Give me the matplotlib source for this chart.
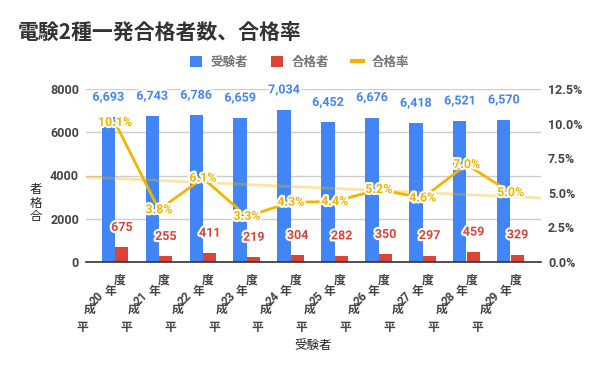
import matplotlib
matplotlib.use("Agg")
import matplotlib.pyplot as plt
import matplotlib.patheffects as path_effects
import matplotlib.transforms as mtransforms
from matplotlib.patches import Patch
from matplotlib.lines import Line2D
import numpy as np

# ---------------------------------------------------------------------------
# Data
# ---------------------------------------------------------------------------
tick_labels = ["平成20年度", "平成21年度", "平成22年度", "平成23年度", "平成24年度",
               "平成25年度", "平成26年度", "平成27年度", "平成28年度", "平成29年度"]
examinees = [6693, 6743, 6786, 6659, 7034, 6452, 6676, 6418, 6521, 6570]
passers = [675, 255, 411, 219, 304, 282, 350, 297, 459, 329]
pass_rate = [10.08, 3.78, 6.06, 3.29, 4.32, 4.37, 5.24, 4.63, 7.04, 5.01]

BLUE = "#4285F4"
RED = "#DB4437"
YELLOW = "#F4B400"
TEXT = "#444444"

JP = ["Noto Sans CJK JP", "DejaVu Sans"]
NUM = ["Roboto", "Noto Sans CJK JP", "DejaVu Sans"]

halo = [path_effects.withStroke(linewidth=3, foreground="white")]

fig = plt.figure(figsize=(6, 3.71), dpi=100)
ax = fig.add_axes([86 / 600, 1 - 262 / 371, 455 / 600, 173 / 371])
ax2 = ax.twinx()

x = np.arange(len(tick_labels))
w = 0.3
off = 0.155

ax.bar(x - off, examinees, width=w, color=BLUE, zorder=2)
ax.bar(x + off, passers, width=w, color=RED, zorder=2)

for xi, v in zip(x, examinees):
    ax.annotate(f"{v:,}", (xi - off, v), xytext=(0, 20), textcoords="offset pixels",
                ha="center", va="center", fontsize=9, fontweight="bold",
                color=BLUE, family=NUM, path_effects=halo, zorder=4)
for xi, v in zip(x, passers):
    ax.annotate(f"{v}", (xi + off, v), xytext=(0, 20), textcoords="offset pixels",
                ha="center", va="center", fontsize=9, fontweight="bold",
                color=RED, family=NUM, path_effects=halo, zorder=4)

ax.set_xlim(-0.66, 9.69)
ax.set_ylim(0, 8000)
ax.set_yticks([0, 2000, 4000, 6000, 8000])
ax.yaxis.grid(True, color="#cccccc", lw=1)
ax.set_axisbelow(True)
ax.set_xticks([])
ax.tick_params(axis="y", length=0, pad=5, labelsize=9, labelcolor=TEXT)
for lbl in ax.get_yticklabels():
    lbl.set_family(NUM)
    lbl.set_fontweight("bold")
for s in ["top", "left", "right"]:
    ax.spines[s].set_visible(False)
ax.spines["bottom"].set_color("#333333")
ax.spines["bottom"].set_linewidth(1.2)

# trend line + rate line on right axis
coef = np.polyfit(x, pass_rate, 1)
xt = np.array(ax.get_xlim())
ax2.plot(xt, np.polyval(coef, xt), color=YELLOW, alpha=0.35, lw=2, zorder=2)
ax2.plot(x, pass_rate, color=YELLOW, lw=2, zorder=3)
for xi, v in zip(x, pass_rate):
    ax2.text(xi, v, f"{v:.1f}%", ha="center", va="center", fontsize=9,
             fontweight="bold", color=YELLOW, family=NUM, path_effects=halo, zorder=5)

ax2.set_ylim(0, 12.5)
ax2.set_yticks([0, 2.5, 5, 7.5, 10, 12.5])
ax2.set_yticklabels([f"{t:.1f}%" for t in [0, 2.5, 5, 7.5, 10, 12.5]])
ax2.tick_params(axis="y", length=0, pad=5, labelsize=9, labelcolor=TEXT)
for lbl in ax2.get_yticklabels():
    lbl.set_family(NUM)
    lbl.set_fontweight("bold")
for s in ax2.spines.values():
    s.set_visible(False)

# x tick labels: upright characters stacked on a diagonal
base = ax.get_xaxis_transform()
char_offsets = [(-33, -66, 0), (-25, -47, 0), (-18, -37, 45), (-5, -30, 0), (5, -18, 0)]
for xi, lab in zip(x, tick_labels):
    parts = [lab[0], lab[1], lab[2:-2], lab[-2], lab[-1]]
    for ch, (dx, dy, rot) in zip(parts, char_offsets):
        tr = mtransforms.offset_copy(base, fig=fig, x=dx, y=dy, units="dots")
        ax.text(xi, 0, ch, transform=tr, ha="center", va="center", rotation=rot,
                fontsize=8.5, color=TEXT, family=NUM if ch.isdigit() else JP,
                fontweight="bold")

# titles and axis labels
fig.text(18 / 600, 1 - 32 / 371, "電験2種一発合格者数、合格率", ha="left", va="center",
         fontsize=15, color="#333333", family=JP, fontweight="bold")
fig.text(313 / 600, 1 - 345 / 371, "受験者", ha="center", va="center",
         fontsize=9, color="#222222", family=JP)
fig.text(36 / 600, 1 - 203 / 371, "者\n格\n合", ha="center", va="center",
         fontsize=9, color="#222222", family=JP, linespacing=1.05)

handles = [Patch(facecolor=BLUE), Patch(facecolor=RED),
           Line2D([0], [0], color=YELLOW, lw=3)]
leg = fig.legend(handles, ["受験者", "合格者", "合格率"], loc="center",
                 bbox_to_anchor=(300 / 600, 1 - 62.5 / 371), ncol=3, frameon=False,
                 prop={"family": JP, "size": 9, "weight": "bold"},
                 handlelength=0.95, handleheight=0.95,
                 handletextpad=0.7, columnspacing=1.8)
for t in leg.get_texts():
    t.set_color("#757575")

fig.savefig("out.png", dpi=100)
